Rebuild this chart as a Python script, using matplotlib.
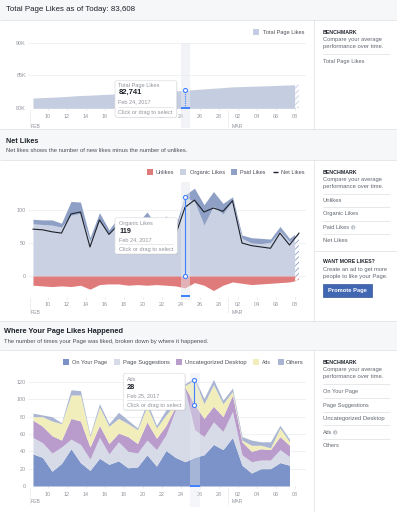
import numpy as np
import pandas as pd
import matplotlib
matplotlib.use('Agg')
import matplotlib.pyplot as plt
from matplotlib.patches import Rectangle, FancyBboxPatch, Circle
import matplotlib.transforms as mtransforms

plt.rcParams['font.family'] = ['Liberation Sans', 'DejaVu Sans']
plt.rcParams['hatch.linewidth'] = 0.6

# ---------------- data ----------------
dates_likes = pd.date_range('2017-02-08', '2017-03-08', freq='D')
total_page_likes = [81560, 81630, 81697, 81762, 81856, 81953, 81997, 82082, 82145, 82223,
                    82285, 82351, 82434, 82498, 82575, 82637, 82741, 82856, 82953, 83056,
                    83154, 83268, 83318, 83364, 83408, 83450, 83515, 83562, 83608]
organic_likes = [79, 78, 77, 74, 92, 95, 53, 84, 64, 80, 70, 73, 88, 70, 84, 68, 119, 113, 77,
                 106, 94, 114, 57, 50, 49, 51, 68, 52, 64]
paid_likes = [7, 7, 8, 6, 21, 17, 5, 12, 6, 9, 6, 7, 9, 7, 7, 7, 4, 20, 31, 22, 16, 6, 5, 8, 8,
              5, 7, 5, 4]
unlikes = [14, 15, 16, 15, 16, 14, 20, 13, 12, 12, 14, 13, 14, 13, 14, 15, 18, 10, 14, 22, 14,
           9, 11, 13, 12, 11, 10, 9, 6]
net_likes = [71, 70, 67, 65, 94, 97, 44, 85, 63, 78, 62, 66, 83, 64, 77, 62, 104, 115, 97, 103,
             98, 114, 50, 46, 44, 42, 65, 47, 65]

dates_where = pd.date_range('2017-02-08', '2017-03-07', freq='D')
on_your_page = [37, 33, 17, 26, 43, 27, 18, 32, 25, 29, 21, 22, 36, 23, 41, 33, 28, 33, 36, 48,
                42, 56, 24, 15, 20, 20, 27, 24]
page_suggestions = [19, 17, 21, 19, 11, 21, 13, 24, 12, 22, 19, 16, 17, 19, 18, 55, 84, 32, 21,
                    26, 21, 30, 12, 13, 10, 10, 15, 10]
uncategorized_desktop = [20, 19, 20, 8, 24, 27, 14, 14, 12, 10, 17, 11, 21, 13, 11, 4, 2, 29, 21,
                         18, 17, 19, 15, 12, 13, 12, 15, 13]
ads = [4, 11, 17, 19, 27, 30, 12, 21, 20, 17, 15, 16, 18, 12, 12, 3, 2, 28, 17, 25, 15, 4, 2, 7,
       4, 2, 10, 4]
others = [4, 2, 5, 1, 6, 5, 2, 4, 3, 7, 4, 2, 5, 3, 6, 3, 2, 3, 6, 6, 4, 4, 4, 6, 4, 7, 3, 3]
where_names = ['On Your Page', 'Page Suggestions', 'Uncategorized Desktop', 'Ads', 'Others']

tick_dates = pd.date_range('2017-02-10', '2017-03-08', freq='2D')
tick_labels = ['10', '12', '14', '16', '18', '20', '22', '24', '26', '28', '02', '04', '06', '08']
ytick_total = [80000, 85000, 90000]
ytick_total_labels = ['80K', '85K', '90K']
ytick_net = [0, 50, 100]
ytick_where = [0, 20, 40, 60, 80, 100, 120]

sel_likes = pd.Timestamp('2017-02-24')
sel_where = pd.Timestamp('2017-02-25')

# ---------------- style ----------------
C_TOTAL = '#c5cde0'
C_UNLIKE = '#e07b7b'
C_ORG = '#c9d1e2'
C_PAID = '#8fa0c6'
C_NET = '#1d2129'
C_WHERE = ['#7b93c8', '#d6dbe7', '#b99ccc', '#f1eebb', '#a9b5d2']
BLUE = '#4080ff'
GRID = '#e9ebee'
BORDER = '#dddfe2'
TICKC = '#90949c'
GRAYTXT = '#606770'
DARK = '#1d2129'
BAND = '#e6e9f1'

W, H = 397, 512
fig = plt.figure(figsize=(W / 100, H / 100), dpi=100)
fig.patch.set_facecolor('white')
R = fig.canvas.get_renderer()

BASE = pd.Timestamp('2017-01-31')


def dnum(dts):
    return np.array([(d - BASE).days for d in dts], float)


OFF = 0.45
x_likes = dnum(dates_likes) + OFF
x_where = dnum(dates_where) + OFF
tick_pos = dnum(tick_dates)
X10, PXD = 47.7, 9.5
XL, XR = 28, 306
xlim = (10 - (X10 - XL) / PXD, 10 + (XR - X10) / PXD)


def ax_px(x0, y0, x1, y1):
    ax = fig.add_axes([x0 / W, 1 - y1 / H, (x1 - x0) / W, (y1 - y0) / H])
    ax._pxr = (x0, y0, x1, y1)
    return ax


def frac(ax, ypx):
    x0, y0, x1, y1 = ax._pxr
    return (y1 - ypx) / (y1 - y0)


def style(ax, yt, ytl, pad):
    ax.set_facecolor('none')
    for s in ax.spines.values():
        s.set_visible(False)
    ax.set_xlim(*xlim)
    ax.set_xticks(tick_pos)
    ax.set_xticklabels(tick_labels)
    ax.set_yticks(yt)
    ax.set_yticklabels(ytl)
    ax.tick_params(axis='x', length=1.5, width=0.5, color=BORDER, pad=pad,
                   labelsize=3.9, labelcolor=TICKC)
    ax.tick_params(axis='y', length=0, pad=1.5, labelsize=3.9, labelcolor=TICKC)
    ax.grid(axis='y', color=GRID, lw=0.5)
    ax.set_axisbelow(True)


def months(ax, y0px, y1px, ylab):
    tr = mtransforms.blended_transform_factory(ax.transData, ax.transAxes)
    for d in (8.15, 29.0):
        ax.plot([d, d], [frac(ax, y0px), frac(ax, y1px)], transform=tr, clip_on=False,
                color='#ccd0d5', lw=0.5, ls=(0, (1, 1)))
    for d, s in ((8.25, 'FEB'), (29.35, 'MAR')):
        ax.text(d, frac(ax, ylab), s, transform=tr, fontsize=3.7, color=TICKC,
                ha='left', va='center')


def split(x, y, cut):
    y = np.asarray(y, float)
    yc = np.interp(cut, x, y)
    m = x < cut
    return (np.append(x[m], cut), np.append(y[m], yc),
            np.concatenate([[cut], x[~m]]), np.concatenate([[yc], y[~m]]))


CUT = 36.05

# ---------------- chart 1 ----------------
ax1 = ax_px(XL, 42.7, XR, 108.3)
style(ax1, ytick_total, ytick_total_labels, 2.7)
ax1.set_ylim(80000, 90000)
xs, ys, xh, yh = split(x_likes, total_page_likes, CUT)
ax1.fill_between(xs, 80000, ys, color=C_TOTAL, lw=0, zorder=2)
ax1.fill_between(xh, 80000, yh, facecolor='white', edgecolor=C_TOTAL, hatch='//////', lw=0, zorder=2)
i1 = dates_likes.get_loc(sel_likes)
d1 = dnum([sel_likes])[0]
ax1.axvspan(d1, d1 + 1, ymin=frac(ax1, 128), ymax=1.0, color=BAND, alpha=0.5, lw=0,
            zorder=3, clip_on=False)
ax1.vlines(x_likes[i1], 80000, total_page_likes[i1], colors=BLUE, linestyles=(0, (1, 1)),
           lw=0.8, zorder=5)
ax1.plot([x_likes[i1]], [total_page_likes[i1]], 'o', ms=2.9, mfc='white', mec=BLUE, mew=0.8, zorder=6)
ax1.plot([d1, d1 + 1], [80000, 80000], color=BLUE, lw=1.4, solid_capstyle='butt',
         clip_on=False, zorder=6)
months(ax1, 110, 127, 126)

# ---------------- chart 2 ----------------
ax2 = ax_px(XL, 182, XR, 296.7)
style(ax2, ytick_net, [str(v) for v in ytick_net], 2.0)
ax2.set_ylim(-(296.7 - 276) / 0.66, (276 - 182) / 0.66)
org = np.array(organic_likes, float)
top = org + np.array(paid_likes, float)
unl = -np.array(unlikes, float)
xs, ys_o, xh, yh_o = split(x_likes, org, CUT)
_, ys_t, _, yh_t = split(x_likes, top, CUT)
_, ys_u, _, yh_u = split(x_likes, unl, CUT)
ax2.fill_between(xs, 0, ys_o, color=C_ORG, lw=0, zorder=2)
ax2.fill_between(xs, ys_o, ys_t, color=C_PAID, lw=0, zorder=2)
ax2.fill_between(xs, ys_u, 0, color=C_UNLIKE, lw=0, zorder=2)
ax2.fill_between(xh, 0, yh_t, facecolor='white', edgecolor=C_PAID, hatch='//////', lw=0, zorder=2)
ax2.fill_between(xh, yh_u, 0, facecolor='white', edgecolor=C_UNLIKE, hatch='//////', lw=0, zorder=2)
ax2.plot(x_likes, net_likes, color=C_NET, lw=0.8, zorder=4)
ax2.axvspan(d1, d1 + 1, ymin=frac(ax2, 300), ymax=1.0, color=BAND, alpha=0.5, lw=0,
            zorder=3, clip_on=False)
ax2.plot([x_likes[i1], x_likes[i1]], [0, organic_likes[i1]], color=BLUE, lw=0.8, zorder=5)
ax2.plot([x_likes[i1]] * 2, [0, organic_likes[i1]], 'o', ms=2.9, mfc='white', mec=BLUE,
         mew=0.8, zorder=6)
tr2 = mtransforms.blended_transform_factory(ax2.transData, ax2.transAxes)
ax2.plot([d1, d1 + 1], [frac(ax2, 296), frac(ax2, 296)], transform=tr2, color=BLUE, lw=1.4,
         solid_capstyle='butt', clip_on=False, zorder=6)
months(ax2, 297.5, 313, 312)

# ---------------- chart 3 ----------------
ax3 = ax_px(XL, 375, XR, 486)
style(ax3, ytick_where, [str(v) for v in ytick_where], 2.7)
ax3.set_ylim(0, (486 - 375) / 0.8667)
layers = np.array([on_your_page, page_suggestions, uncategorized_desktop, ads, others], float)
cum = np.vstack([np.zeros(len(x_where)), np.cumsum(layers, axis=0)])
for k in range(len(layers)):
    ax3.fill_between(x_where, cum[k], cum[k + 1], color=C_WHERE[k], lw=0, zorder=2)
i3 = dates_where.get_loc(sel_where)
d3 = dnum([sel_where])[0]
ax3.axvspan(d3, d3 + 1, ymin=frac(ax3, 506.7), ymax=frac(ax3, 372.7), color=BAND,
            alpha=0.4, lw=0, zorder=3, clip_on=False)
ax3.plot([x_where[i3]] * 2, [cum[3][i3], cum[4][i3]], color=BLUE, lw=0.8, zorder=5)
ax3.plot([x_where[i3]] * 2, [cum[3][i3], cum[4][i3]], 'o', ms=2.9, mfc='white', mec=BLUE,
         mew=0.8, zorder=6)
ax3.plot([d3, d3 + 1], [0, 0], color=BLUE, lw=1.4, solid_capstyle='butt', clip_on=False, zorder=6)
months(ax3, 488, 504, 501.7)

# ---------------- overlay (pixel coordinates) ----------------
ov = fig.add_axes([0, 0, 1, 1])
ov.set_xlim(0, W)
ov.set_ylim(H, 0)
ov.axis('off')
ov.set_zorder(10)
ov.patch.set_visible(False)


def T(x, y, s, size=4.5, w=None, ha='left', color=DARK, weight='normal', z=8):
    t = ov.text(x, y, s, fontsize=size, ha=ha, va='center', color=color, fontweight=weight, zorder=z)
    if w is not None:
        bb = t.get_window_extent(R)
        t.set_fontsize(size * w / bb.width)
    return t


def hline(x0, x1, y, c=BORDER, lw=0.5):
    ov.plot([x0, x1], [y, y], color=c, lw=lw, solid_capstyle='butt')


def vline(x, y0, y1, c=BORDER, lw=0.5):
    ov.plot([x, x], [y0, y1], color=c, lw=lw, solid_capstyle='butt')


HDR = '#f6f7f9'
for y0, y1 in ((0, 20), (128.5, 160), (320.7, 350)):
    ov.add_patch(Rectangle((0, y0), W, y1 - y0, fc=HDR, ec='none', zorder=1))
    hline(0, W, y1)
    if y0 > 0:
        hline(0, W, y0)
for y0, y1 in ((20, 128.5), (160, 320.7), (350, 512)):
    vline(314.3, y0, y1)

T(6, 9.3, 'Total Page Likes as of Today: 83,608', 6, w=130.7)
T(5.7, 141.7, 'Net Likes', 6, w=33, weight='bold')
T(5.7, 150.8, 'Net likes shows the number of new likes minus the number of unlikes.', 4.5,
  w=180.3, color='#4b4f56')
T(4.5, 331.7, 'Where Your Page Likes Happened', 6, w=122, weight='bold')
T(4.5, 341.2, 'The number of times your Page was liked, broken down by where it happened.', 4.5,
  w=204, color='#4b4f56')


def info(x, y):
    ov.add_patch(Circle((x, y), 2.2, fc='#bec3c9', ec='none', zorder=8))
    ov.text(x, y + 0.2, 'i', fontsize=3.2, color='white', ha='center', va='center',
            fontweight='bold', zorder=9)


def bench(y):
    T(322.7, y, 'BENCHMARK', 4, w=34, weight='bold')
    T(322.7, y + 7.2, 'Compare your average', 4.3, w=59, color=GRAYTXT)
    T(322.7, y + 14.3, 'performance over time.', 4.3, w=60.7, color=GRAYTXT)


bench(32.5)
hline(322.7, 390, 54)
T(322.7, 61, 'Total Page Likes', 4.3, w=42, color=GRAYTXT)

bench(172.3)
for yy in (193.5, 207.2, 220.8, 234.3):
    hline(322.7, 390, yy)
T(322.7, 200.3, 'Unlikes', 4.3, w=19.7, color=GRAYTXT)
T(322.7, 213.9, 'Organic Likes', 4.3, w=35.7, color=GRAYTXT)
T(322.7, 227.4, 'Paid Likes', 4.3, w=26.5, color=GRAYTXT)
info(353.2, 227.4)
T(322.7, 240.9, 'Net Likes', 4.3, w=24.7, color=GRAYTXT)
hline(314.3, W, 250.7)
T(322.7, 261.2, 'WANT MORE LIKES?', 4, w=51.3, weight='bold')
T(322.7, 269.4, 'Create an ad to get more', 4.3, w=64.7, color=GRAYTXT)
T(322.7, 276.8, 'people to like your Page.', 4.3, w=64.7, color=GRAYTXT)
ov.add_patch(Rectangle((322.7, 284), 49.3, 12.7, fc='#4267b2', ec='#365899', lw=0.5, zorder=7))
T(347.4, 290.4, 'Promote Page', 4.3, w=39.3, ha='center', color='white', weight='bold')

bench(362.3)
for yy in (384, 398, 411.7, 425.3, 439):
    hline(322.7, 390, yy)
T(322.7, 391.2, 'On Your Page', 4.3, w=35.3, color=GRAYTXT)
T(322.7, 405.1, 'Page Suggestions', 4.3, w=46.7, color=GRAYTXT)
T(322.7, 418.6, 'Uncategorized Desktop', 4.3, w=61.3, color=GRAYTXT)
T(322.7, 432.4, 'Ads', 4.3, w=9.3, color=GRAYTXT)
info(335.2, 432.4)
T(322.7, 445.5, 'Others', 4.3, w=17.3, color=GRAYTXT)


# legends
def sq(x, y, c):
    ov.add_patch(Rectangle((x, y - 2.9), 5.8, 5.8, fc=c, ec='none', zorder=8))


sq(253.3, 32.3, C_TOTAL)
T(263, 32.3, 'Total Page Likes', 4.3, w=42, color='#4b4f56')

y = 172.3
sq(146.7, y, C_UNLIKE); T(155.7, y, 'Unlikes', 4.3, w=18.6, color='#4b4f56')
sq(180, y, C_ORG); T(189.7, y, 'Organic Likes', 4.3, w=35.3, color='#4b4f56')
sq(231.3, y, C_PAID); T(240, y, 'Paid Likes', 4.3, w=26, color='#4b4f56')
ov.plot([272.7, 278.2], [y, y], color=C_NET, lw=1.0, solid_capstyle='butt')
T(281.3, y, 'Net Likes', 4.3, w=23.7, color='#4b4f56')

y = 362.3
leg3 = [(63.3, 72, 35), (114, 122.7, 47.3), (175.7, 185, 61.7), (253.3, 261.7, 9), (277.7, 286, 18)]
for (sx, tx, tw), name, c in zip(leg3, where_names, C_WHERE):
    sq(sx, y, c)
    T(tx, y, name, 4.3, w=tw, color='#4b4f56')


# tooltips
def tooltip(x0, y0, x1, y1, title, value, date, tx, yt, yv, yd, yl, yc, wt, wv):
    ov.add_patch(FancyBboxPatch((x0 + 0.6, y0 + 0.8), x1 - x0, y1 - y0,
                                boxstyle='round,pad=0,rounding_size=2', fc='#00000018', ec='none', zorder=7))
    ov.add_patch(FancyBboxPatch((x0, y0), x1 - x0, y1 - y0,
                                boxstyle='round,pad=0,rounding_size=2', fc='white', ec=BORDER,
                                lw=0.5, zorder=7.5))
    T(tx, yt, title, 4, w=wt, color=TICKC)
    T(tx, yv, value, 7, w=wv, weight='bold')
    T(tx, yd, date, 4.3, w=32.5, color=TICKC)
    ov.plot([tx, x1 - 4], [yl, yl], color=BORDER, lw=0.5, zorder=8)
    T(tx, yc, 'Click or drag to select', 4.3, w=54.3, color=TICKC)


tooltip(115, 80.7, 176.7, 117.3, 'Total Page Likes', f'{total_page_likes[i1]:,}',
        sel_likes.strftime('%b %d, %Y').replace(' 0', ' '), 118.3, 86, 92.5, 102, 107.3, 112.2,
        40.7, 23.3)
tooltip(115, 217.7, 177.3, 254, 'Organic Likes', str(organic_likes[i1]),
        sel_likes.strftime('%b %d, %Y').replace(' 0', ' '), 119, 223.7, 231.5, 239.7, 244.3,
        249.4, 33.7, 11.7)
tooltip(123.3, 373.3, 185, 410, 'Ads', str(ads[i3]),
        sel_where.strftime('%b %d, %Y').replace(' 0', ' '), 126.7, 379.3, 387.5, 395.7, 400.3,
        405.4, 9.3, 8.3)

fig.savefig('out.png', dpi=100, facecolor='white')
